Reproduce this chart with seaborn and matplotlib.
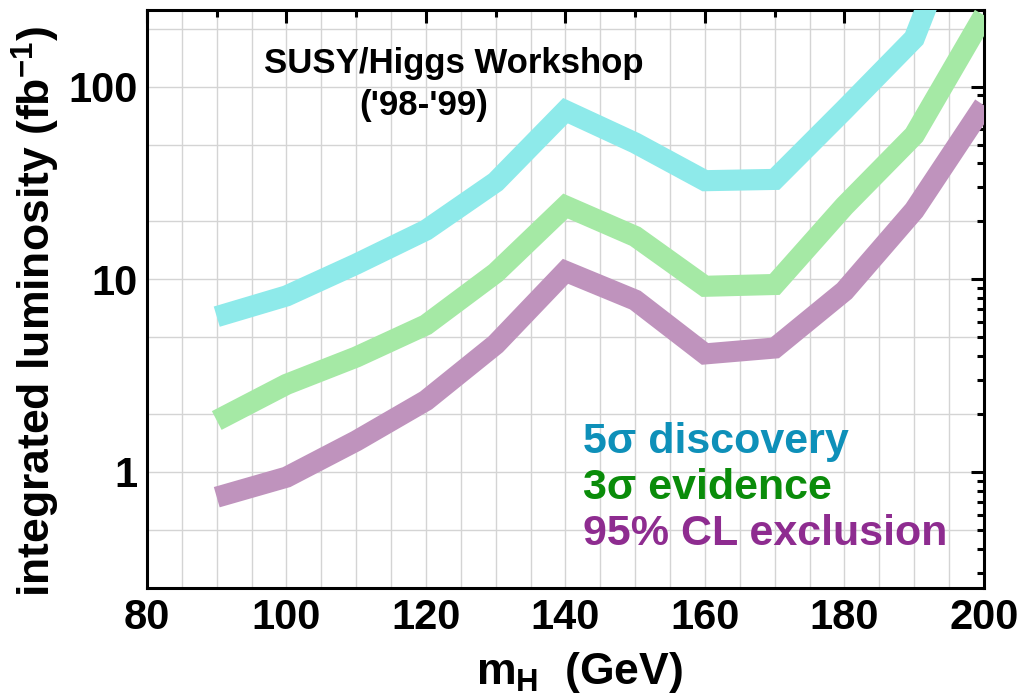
import numpy as np
import pandas as pd
import matplotlib
matplotlib.use("Agg")
import matplotlib.pyplot as plt
from matplotlib.ticker import FixedLocator, NullFormatter, FuncFormatter
import seaborn as sns

# Higgs mass points (GeV)
mass = [90, 100, 110, 120, 130, 140, 150, 160, 170, 180, 190, 200]

# Integrated luminosity (fb^-1) needed for each signal significance
discovery_5sigma = [6.4, 8.2, 12.0, 18.0, 32.0, 75.0, 51.0, 32.5, 33.0, 76.0, 178.0, 1500.0]
evidence_3sigma = [1.85, 2.85, 3.95, 5.8, 10.8, 24.0, 16.7, 9.2, 9.4, 24.0, 56.0, 235.0]
exclusion_95cl = [0.74, 0.94, 1.45, 2.35, 4.6, 11.0, 7.8, 4.1, 4.4, 8.7, 22.8, 80.0]

series_labels = ["5\u03c3 discovery", "3\u03c3 evidence", "95% CL exclusion"]
band_colors = ["#8EEAEA", "#A5E9A5", "#BF93BD"]
text_colors = ["#0E90B9", "#0A8C0A", "#8E2C90"]

x_ticks = [80, 100, 120, 140, 160, 180, 200]
y_ticks = [1, 10, 100]

sns.set_theme(style="white")
plt.rcParams.update({
    "font.family": ["Liberation Sans", "DejaVu Sans"],
    "font.weight": "bold",
    "mathtext.fontset": "custom",
    "mathtext.rm": "Liberation Sans:bold",
    "mathtext.bf": "Liberation Sans:bold",
    "mathtext.it": "Liberation Sans:bold",
    "axes.linewidth": 2.2,
    "text.color": "black",
    "axes.labelcolor": "black",
    "xtick.color": "black",
    "ytick.color": "black",
    "xtick.labelcolor": "black",
    "ytick.labelcolor": "black",
})

df = pd.DataFrame({
    "mass": mass * 3,
    "lumi": discovery_5sigma + evidence_3sigma + exclusion_95cl,
    "kind": [series_labels[0]] * len(mass) + [series_labels[1]] * len(mass)
            + [series_labels[2]] * len(mass),
})

fig = plt.figure(figsize=(10.18, 6.97), dpi=100)
ax = fig.add_axes([0.1444, 0.1564, 0.8222, 0.8293])

# light reference grid every 5 GeV and at 1-2-5 steps per decade
for gx in np.arange(85, 200, 5):
    ax.axvline(gx, color="#d4d4d4", lw=1.0, zorder=0)
for gy in [0.5, 1, 2, 5, 10, 20, 50, 100, 200]:
    ax.axhline(gy, color="#d4d4d4", lw=1.0, zorder=0)

sns.lineplot(data=df, x="mass", y="lumi", hue="kind", palette=band_colors,
             hue_order=series_labels, linewidth=15.2, legend=False, ax=ax,
             zorder=3)
for line in ax.get_lines():
    if line.get_linewidth() > 5:
        line.set_solid_capstyle("butt")
        line.set_solid_joinstyle("miter")

ax.set_yscale("log")
ax.set_xlim(80, 200)
ax.set_ylim(0.25, 250)

ax.xaxis.set_major_locator(FixedLocator(x_ticks))
ax.xaxis.set_minor_locator(FixedLocator(np.arange(90, 200, 20)))
ax.yaxis.set_major_locator(FixedLocator(y_ticks))
minor_y = [m * 10.0 ** e for e in (-1, 0, 1, 2) for m in range(2, 10)]
ax.yaxis.set_minor_locator(FixedLocator([v for v in minor_y if 0.25 <= v <= 250]))
ax.yaxis.set_major_formatter(FuncFormatter(lambda v, p: f"{v:g}"))
ax.yaxis.set_minor_formatter(NullFormatter())

ax.tick_params(which="both", direction="in", top=True, right=True,
               width=2.2, color="black", labelcolor="black", labelsize=30, pad=7)
ax.tick_params(which="major", length=9.5)
ax.tick_params(which="minor", length=5)
for lab in ax.get_xticklabels() + ax.get_yticklabels():
    lab.set_fontweight("bold")
for sp in ax.spines.values():
    sp.set_color("black")
    sp.set_linewidth(2.2)

ax.set_xlabel(r"$\mathrm{m_H}$  (GeV)", fontsize=32, fontweight="bold",
              color="black")
ax.xaxis.set_label_coords(0.517, -0.107)
ax.xaxis.label.set_va("top")
ax.set_ylabel(r"integrated luminosity (fb$^{\mathrm{-1}}$)", fontsize=32,
              fontweight="bold", color="black")
ax.yaxis.set_label_coords(-0.101, 0.479)

ax.text(0.367, 0.891, "SUSY/Higgs Workshop", transform=ax.transAxes,
        ha="center", va="baseline", fontsize=25, fontweight="bold", color="black")
ax.text(0.330, 0.818, "('98-'99)", transform=ax.transAxes,
        ha="center", va="baseline", fontsize=25, fontweight="bold", color="black")

for label, col, ypos in zip(series_labels, text_colors, [0.2336, 0.154, 0.0744]):
    ax.text(0.521, ypos, label, transform=ax.transAxes, ha="left", va="baseline",
            fontsize=31, fontweight="bold", color=col, zorder=5)

fig.savefig("out.png", dpi=100, facecolor="white")
